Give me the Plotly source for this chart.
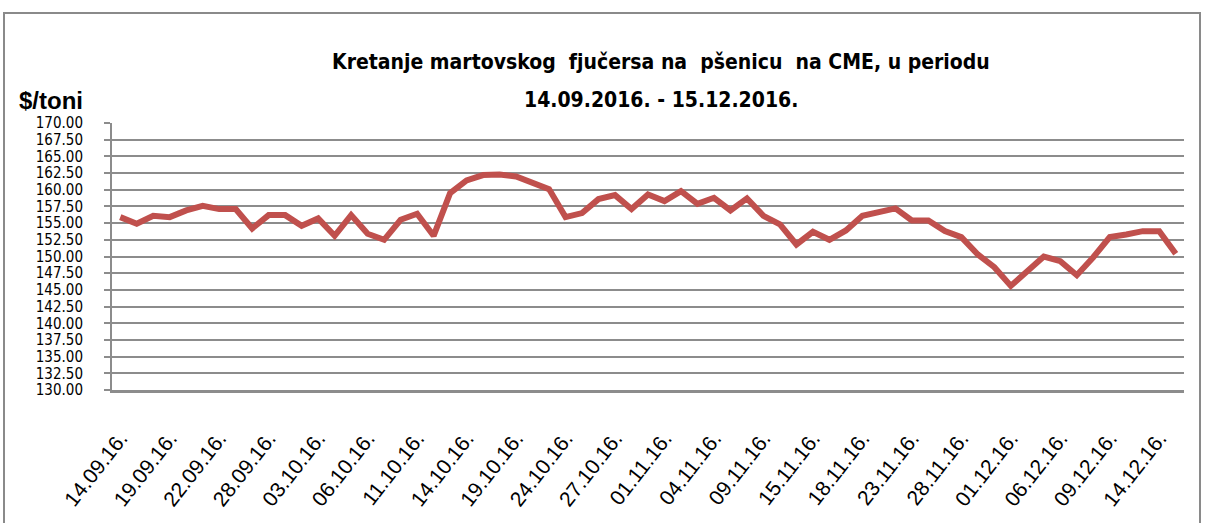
import plotly.graph_objects as go

# ---- data ----
dates = [
    "14.09.16.", "15.09.16.", "16.09.16.", "19.09.16.", "20.09.16.", "21.09.16.", "22.09.16.",
    "23.09.16.", "27.09.16.", "28.09.16.", "29.09.16.", "30.09.16.", "03.10.16.", "04.10.16.",
    "05.10.16.", "06.10.16.", "07.10.16.", "10.10.16.", "11.10.16.", "12.10.16.", "13.10.16.",
    "14.10.16.", "17.10.16.", "18.10.16.", "19.10.16.", "20.10.16.", "21.10.16.", "24.10.16.",
    "25.10.16.", "26.10.16.", "27.10.16.", "28.10.16.", "31.10.16.", "01.11.16.", "02.11.16.",
    "03.11.16.", "04.11.16.", "07.11.16.", "08.11.16.", "09.11.16.", "10.11.16.", "14.11.16.",
    "15.11.16.", "16.11.16.", "17.11.16.", "18.11.16.", "21.11.16.", "22.11.16.", "23.11.16.",
    "24.11.16.", "25.11.16.", "28.11.16.", "29.11.16.", "30.11.16.", "01.12.16.", "02.12.16.",
    "05.12.16.", "06.12.16.", "07.12.16.", "08.12.16.", "09.12.16.", "12.12.16.", "13.12.16.",
    "14.12.16.", "15.12.16.",
]
prices = [
    155.9, 154.9, 156.1, 155.9, 156.9, 157.6, 157.1, 157.1, 154.2, 156.2, 156.2, 154.6, 155.7,
    153.1, 156.2, 153.4, 152.5, 155.5, 156.4, 153.1, 159.5, 161.4, 162.2, 162.3, 162.0, 161.0,
    160.1, 155.9, 156.5, 158.6, 159.2, 157.1, 159.3, 158.3, 159.8, 157.9, 158.8, 156.9, 158.7,
    156.1, 154.8, 151.8, 153.7, 152.5, 153.9, 156.1, 156.7, 157.2, 155.4, 155.4, 153.8, 152.9,
    150.3, 148.4, 145.6, 147.9, 150.0, 149.3, 147.2, 149.9, 152.9, 153.3, 153.8, 153.8, 150.4,
]
x_tick_labels = dates[::3]
y_ticks = [130.0 + 2.5 * i for i in range(17)]
y_tick_labels = [f"{v:.2f}" for v in y_ticks]

title_line1 = "Kretanje martovskog  fjučersa na  pšenicu  na CME, u periodu"
title_line2 = "14.09.2016. - 15.12.2016."
y_unit = "$/toni"

# ---- layout geometry (pixels) ----
W, H = 1206, 523
ML, MR, MT, MB = 112, 22, 123, 133
PW, PH = W - ML - MR, H - MT - MB


def px_x(px):
    return (px - ML) / PW


def px_y(py):
    return (H - MB - py) / PH


GRID = "#8c8c8c"
FONT = "Liberation Sans, Arial, sans-serif"
NARROW = "Liberation Sans Narrow, DejaVu Sans Condensed, Liberation Sans, sans-serif"

fig = go.Figure()
fig.add_trace(go.Scatter(
    x=dates, y=prices, mode="lines",
    line=dict(color="#C0504D", width=6),
    hoverinfo="x+y",
))

fig.update_layout(
    width=W, height=H,
    margin=dict(l=ML, r=MR, t=MT, b=MB, pad=0),
    paper_bgcolor="white", plot_bgcolor="white",
    showlegend=False,
    font=dict(family=FONT, color="black"),
    xaxis=dict(
        type="category", range=[-0.5, len(dates) - 0.5],
        showgrid=False, zeroline=False,
        showline=True, linecolor=GRID, linewidth=2.5,
        ticks="", tickmode="array", tickvals=x_tick_labels, ticktext=x_tick_labels,
        tickangle=-52, tickfont=dict(size=21, family=FONT, color="black"),
        ticklabelstandoff=25,
    ),
    yaxis=dict(
        range=[130, 170], tickmode="array", tickvals=y_ticks, ticktext=y_tick_labels,
        showgrid=True, gridcolor=GRID, gridwidth=2,
        zeroline=False,
        showline=True, linecolor=GRID, linewidth=2,
        ticks="outside", ticklen=6, tickcolor=GRID, tickwidth=2,
        tickfont=dict(size=15, family=NARROW, color="black"),
        ticklabelstandoff=18,
    ),
    shapes=[dict(
        type="rect", xref="paper", yref="paper",
        x0=px_x(4), x1=px_x(1200), y0=px_y(560), y1=px_y(13),
        line=dict(color="#8a8a8a", width=2), fillcolor="rgba(0,0,0,0)", layer="below",
    )],
    annotations=[
        dict(text=f"<b>{title_line1}</b>", xref="paper", yref="paper",
             x=px_x(661), y=px_y(62), xanchor="center", yanchor="middle",
             showarrow=False, font=dict(size=21, family=NARROW, color="black")),
        dict(text=f"<b>{title_line2}</b>", xref="paper", yref="paper",
             x=px_x(661), y=px_y(100), xanchor="center", yanchor="middle",
             showarrow=False, font=dict(size=21, family=NARROW, color="black")),
        dict(text=f"<b>{y_unit}</b>", xref="paper", yref="paper",
             x=px_x(17), y=px_y(100), xanchor="left", yanchor="middle",
             showarrow=False, font=dict(size=24, family=FONT, color="black")),
    ],
)

fig.write_html(
    "out.html",
    config={"displayModeBar": False},
    post_script="document.body.style.margin='0';document.body.style.overflow='hidden';",
)
